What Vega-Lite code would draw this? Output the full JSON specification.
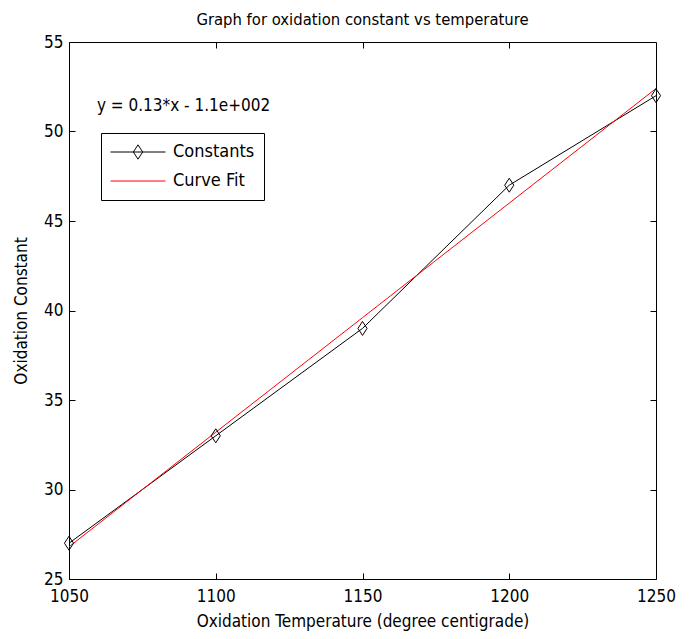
{
  "$schema": "https://vega.github.io/schema/vega-lite/v6.json",
  "width": 587,
  "height": 537,
  "autosize": {"type": "none"},
  "padding": {"left": 69, "top": 42, "right": 34, "bottom": 60},
  "background": "white",
  "config": {
    "font": "Liberation Sans Narrow, Arial Narrow, DejaVu Sans Condensed, sans-serif",
    "view": {"stroke": "black", "strokeWidth": 1},
    "axis": {
      "grid": false,
      "domain": false,
      "tickColor": "black",
      "tickWidth": 1,
      "tickSize": -6,
      "labelColor": "black",
      "titleColor": "black",
      "labelFontSize": 17,
      "titleFontSize": 17,
      "titleFontWeight": "normal",
      "labelFlush": false,
      "labelOverlap": false
    }
  },
  "title": {
    "text": "Graph for oxidation constant vs temperature",
    "fontSize": 16.5,
    "fontWeight": "normal",
    "color": "black",
    "anchor": "middle",
    "offset": 5
  },
  "datasets": {
    "series": [
      {"temperature": 1050, "constant": 27, "series": "Constants"},
      {"temperature": 1100, "constant": 33, "series": "Constants"},
      {"temperature": 1150, "constant": 39, "series": "Constants"},
      {"temperature": 1200, "constant": 47, "series": "Constants"},
      {"temperature": 1250, "constant": 52, "series": "Constants"},
      {"temperature": 1050, "constant": 26.8, "series": "Curve Fit"},
      {"temperature": 1100, "constant": 33.2, "series": "Curve Fit"},
      {"temperature": 1150, "constant": 39.6, "series": "Curve Fit"},
      {"temperature": 1200, "constant": 46.0, "series": "Curve Fit"},
      {"temperature": 1250, "constant": 52.4, "series": "Curve Fit"}
    ],
    "constants": [
      {"temperature": 1050, "constant": 27},
      {"temperature": 1100, "constant": 33},
      {"temperature": 1150, "constant": 39},
      {"temperature": 1200, "constant": 47},
      {"temperature": 1250, "constant": 52}
    ],
    "note": [
      {"temperature": 1059.5, "constant": 51.4, "label": "y = 0.13*x - 1.1e+002"}
    ]
  },
  "layer": [
    {
      "data": {"name": "series"},
      "mark": {"type": "line", "strokeWidth": 1},
      "encoding": {
        "x": {
          "field": "temperature",
          "type": "quantitative",
          "scale": {"domain": [1050, 1250], "nice": false, "zero": false},
          "axis": {
            "orient": "bottom",
            "values": [1050, 1100, 1150, 1200, 1250],
            "format": "d",
            "title": "Oxidation Temperature (degree centigrade)",
            "labelPadding": 15,
            "titlePadding": 9
          }
        },
        "y": {
          "field": "constant",
          "type": "quantitative",
          "scale": {"domain": [25, 55], "nice": false, "zero": false},
          "axis": {
            "orient": "left",
            "values": [25, 30, 35, 40, 45, 50, 55],
            "title": "Oxidation Constant",
            "labelPadding": 12,
            "titlePadding": 13
          }
        },
        "color": {
          "field": "series",
          "type": "nominal",
          "scale": {"domain": ["Constants", "Curve Fit"], "range": ["black", "#ff0000"]},
          "legend": {
            "orient": "none",
            "legendX": 32,
            "legendY": 91,
            "title": null,
            "strokeColor": "black",
            "fillColor": "white",
            "padding": 9,
            "clipHeight": 20,
            "rowPadding": 9,
            "labelOffset": 7,
            "labelFontSize": 18,
            "labelColor": "black",
            "symbolType": "stroke",
            "symbolSize": 3025,
            "symbolStrokeWidth": 1,
            "encode": {
              "symbols": {
                "update": {
                  "shape": {"signal": "datum.value === 'Constants' ? 'M-1,0L1,0M0,-0.26L0.17,0L0,0.26L-0.17,0Z' : 'stroke'"},
                  "fill": {"value": "white"},
                  "strokeWidth": {"value": 1}
                }
              }
            }
          }
        }
      }
    },
    {
      "data": {"name": "constants"},
      "mark": {
        "type": "point",
        "shape": "M0,-1L0.65,0L0,1L-0.65,0Z",
        "size": 196,
        "filled": false,
        "stroke": "black",
        "strokeWidth": 1,
        "opacity": 1
      },
      "encoding": {
        "x": {
          "field": "temperature",
          "type": "quantitative",
          "axis": {
            "orient": "top",
            "values": [1100, 1150, 1200],
            "labels": false,
            "title": null
          }
        },
        "y": {
          "field": "constant",
          "type": "quantitative",
          "axis": {
            "orient": "right",
            "values": [30, 35, 40, 45, 50],
            "labels": false,
            "title": null
          }
        }
      }
    },
    {
      "data": {"name": "note"},
      "mark": {"type": "text", "align": "left", "baseline": "middle", "fontSize": 17, "color": "black"},
      "encoding": {
        "x": {"field": "temperature", "type": "quantitative", "axis": null},
        "y": {"field": "constant", "type": "quantitative", "axis": null},
        "text": {"field": "label"}
      }
    }
  ],
  "resolve": {"axis": {"x": "independent", "y": "independent"}}
}
